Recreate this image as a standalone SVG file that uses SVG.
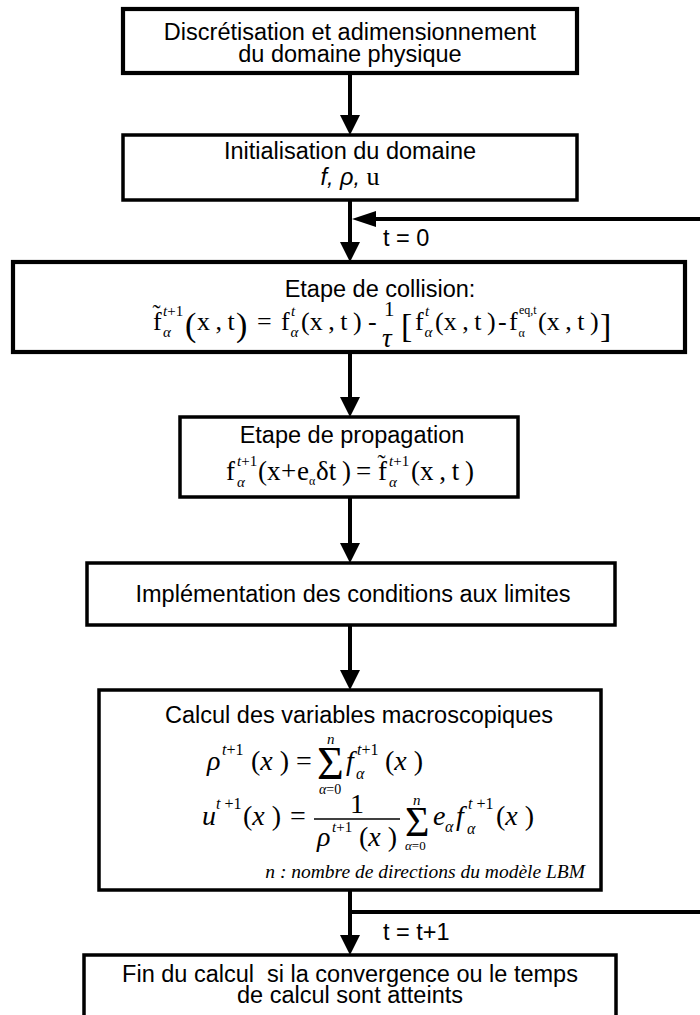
<svg xmlns="http://www.w3.org/2000/svg" width="700" height="1015" viewBox="0 0 700 1015">
<style>
.box{fill:#fff;stroke:#000;stroke-width:3.5;stroke-linejoin:miter}
.thick{stroke-width:4.2}
.lbl{font-family:"Liberation Sans",Arial,sans-serif;font-size:23.5px;fill:#000}
.mid{text-anchor:middle}
.m{font-family:"Liberation Serif","Times New Roman",serif;fill:#000}
.i{font-style:italic}
.tight{word-spacing:-1px}
.wire{fill:none;stroke:#000;stroke-width:4}
</style>
<defs>
<marker id="head" viewBox="0 0 20 20" refX="10" refY="10" markerWidth="20" markerHeight="20" markerUnits="userSpaceOnUse" orient="auto"><path d="M0,0L20,10L0,20z"/></marker>
<marker id="headS" viewBox="0 0 24 16" refX="12" refY="8" markerWidth="24" markerHeight="16" markerUnits="userSpaceOnUse" orient="auto"><path d="M0,0L24,8L0,16z"/></marker>
</defs>

<g id="connectors">
<path class="wire" d="M350,73V125" marker-end="url(#head)"/>
<path class="wire" d="M350,200V252" marker-end="url(#head)"/>
<path class="wire" d="M700,219H364" marker-end="url(#headS)"/>
<path class="wire" d="M350,352V407" marker-end="url(#head)"/>
<path class="wire" d="M350,497V553" marker-end="url(#head)"/>
<path class="wire" d="M350,625V680" marker-end="url(#head)"/>
<path class="wire" d="M350,890V945" marker-end="url(#head)"/>
<path class="wire" d="M350,912H700"/>
<text class="lbl" x="383" y="246">t = 0</text>
<text class="lbl" x="383" y="940">t = t+1</text>
</g>

<g id="discretisation">
<rect class="box thick" x="123" y="9" width="454" height="64"/>
<text class="lbl mid" x="350" y="40">Discrétisation et adimensionnement</text>
<text class="lbl mid" x="350" y="62">du domaine physique</text>
</g>

<g id="initialisation">
<rect class="box" x="123" y="135" width="454" height="65"/>
<text class="lbl mid" x="350" y="159">Initialisation du domaine</text>
<text class="lbl mid" x="350" y="185"><tspan font-style="italic">f,  ρ,</tspan><tspan class="m" font-size="26"> u</tspan></text>
</g>

<g id="collision">
<rect class="box thick" x="13" y="262" width="672" height="90"/>
<text class="lbl mid" x="380" y="297">Etape de collision:</text>
<text class="m" x="153" y="330" font-size="26">f</text>
<text class="m" x="152.5" y="321" font-size="24">˜</text>
<text class="m" x="163" y="316" font-size="15"><tspan class="i">t</tspan>+1</text>
<text class="m i" x="163" y="337" font-size="15">α</text>
<text class="m" x="185" y="336" font-size="34">(</text>
<text class="m tight" x="197" y="330" font-size="26">x , t</text>
<text class="m" x="236" y="336" font-size="34">)</text>
<text class="m" x="257" y="330" font-size="26">=</text>
<text class="m" x="281" y="330" font-size="26">f</text>
<text class="m i" x="291" y="316" font-size="15">t</text>
<text class="m i" x="290.5" y="337" font-size="15">α</text>
<text class="m tight" x="301" y="330" font-size="26">(x , t )</text>
<text class="m" x="368" y="330" font-size="26">-</text>
<text class="m" x="384" y="316" font-size="21">1</text>
<text class="m i" x="382" y="347" font-size="27">τ</text>
<text class="m" x="401" y="337" font-size="34">[</text>
<text class="m" x="415" y="330" font-size="26">f</text>
<text class="m i" x="425" y="316" font-size="15">t</text>
<text class="m i" x="424.5" y="337" font-size="15">α</text>
<text class="m tight" x="435" y="330" font-size="26">(x , t )</text>
<text class="m" x="498" y="330" font-size="26">-</text>
<text class="m" x="509" y="330" font-size="26">f</text>
<text class="m" x="519" y="314" font-size="12">eq,t</text>
<text class="m" x="518.5" y="337" font-size="12">α</text>
<text class="m tight" x="538" y="330" font-size="26">(x , t )</text>
<text class="m" x="600" y="337" font-size="34">]</text>
</g>

<g id="propagation">
<rect class="box" x="180" y="417" width="338" height="80"/>
<text class="lbl mid" x="352" y="443">Etape de propagation</text>
<text class="m" x="226" y="480" font-size="27">f</text>
<text class="m" x="237" y="466" font-size="15"><tspan class="i">t</tspan>+1</text>
<text class="m i" x="237" y="487" font-size="15">α</text>
<text class="m" x="258" y="480" font-size="27">(</text>
<text class="m" x="267" y="480" font-size="27">x</text>
<text class="m" x="281" y="480" font-size="27">+</text>
<text class="m" x="297" y="480" font-size="27">e</text>
<text class="m" x="309" y="485" font-size="12">α</text>
<text class="m" x="316" y="480" font-size="27">δt</text>
<text class="m" x="342" y="480" font-size="27">)</text>
<text class="m" x="356" y="480" font-size="27">=</text>
<text class="m" x="378" y="480" font-size="27">f</text>
<text class="m" x="377.5" y="471" font-size="24">˜</text>
<text class="m" x="389" y="466" font-size="15"><tspan class="i">t</tspan>+1</text>
<text class="m i" x="389" y="487" font-size="15">α</text>
<text class="m tight" x="411" y="480" font-size="27">(x , t )</text>
</g>

<g id="conditions">
<rect class="box" x="87" y="563" width="528" height="62"/>
<text class="lbl mid" x="353" y="602">Implémentation des conditions aux limites</text>
</g>

<g id="macroscopiques">
<rect class="box" x="99" y="690" width="502" height="200"/>
<text class="lbl mid" x="359" y="723">Calcul des variables macroscopiques</text>
<text class="m i" x="207" y="770" font-size="28">ρ</text>
<text class="m" x="222" y="755" font-size="16"><tspan class="i">t</tspan>+1</text>
<text class="m" x="251" y="770" font-size="28">(<tspan class="i">x</tspan> )</text>
<text class="m" x="296" y="770" font-size="28">=</text>
<text class="m" x="317" y="779" font-size="46">Σ</text>
<text class="m i" x="327" y="744" font-size="15">n</text>
<text class="m" x="319" y="794" font-size="14"><tspan class="i">α</tspan>=0</text>
<text class="m i" x="346" y="770" font-size="28">f</text>
<text class="m" x="357" y="755" font-size="16"><tspan class="i">t</tspan>+1</text>
<text class="m i" x="356" y="779" font-size="16">α</text>
<text class="m" x="385" y="770" font-size="28">(<tspan class="i">x</tspan> )</text>
<text class="m i" x="202" y="825" font-size="28">u</text>
<text class="m" x="216" y="809" font-size="16"><tspan class="i">t</tspan> +1</text>
<text class="m" x="243" y="825" font-size="28">(<tspan class="i">x</tspan> )</text>
<text class="m" x="290" y="825" font-size="28">=</text>
<text class="m mid" x="357" y="813" font-size="28">1</text>
<line x1="314" y1="819" x2="400" y2="819" stroke="#000" stroke-width="1.4"/>
<text class="m i" x="317" y="846" font-size="28">ρ</text>
<text class="m" x="332" y="832" font-size="15"><tspan class="i">t</tspan>+1</text>
<text class="m" x="359" y="846" font-size="28">(<tspan class="i">x</tspan> )</text>
<text class="m" x="405" y="836" font-size="42">Σ</text>
<text class="m i" x="413" y="805" font-size="15">n</text>
<text class="m" x="405" y="850" font-size="13"><tspan class="i">α</tspan>=0</text>
<text class="m i" x="433" y="825" font-size="28">e</text>
<text class="m i" x="445" y="832" font-size="16">α</text>
<text class="m i" x="456" y="825" font-size="28">f</text>
<text class="m" x="468" y="809" font-size="16"><tspan class="i">t</tspan> +1</text>
<text class="m i" x="467" y="834" font-size="16">α</text>
<text class="m" x="496" y="825" font-size="28">(<tspan class="i">x</tspan> )</text>
<text class="m i" x="585" y="878" font-size="19.5" text-anchor="end">n : nombre de directions du modèle LBM</text>
</g>

<g id="fin">
<rect class="box" x="84" y="955" width="532" height="90"/>
<text class="lbl mid" x="350" y="982" xml:space="preserve">Fin du calcul  si la convergence ou le temps</text>
<text class="lbl mid" x="350" y="1003">de calcul sont atteints</text>
</g>
</svg>
